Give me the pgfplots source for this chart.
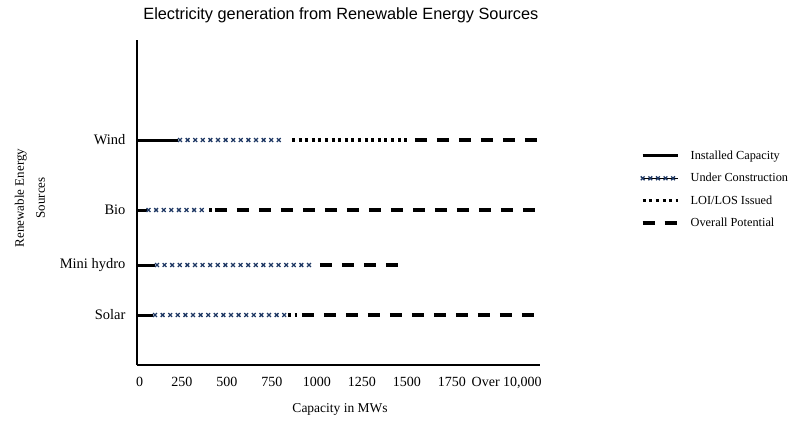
\documentclass[border=0pt]{standalone}
\usepackage{pgfplots}
\pgfplotsset{compat=1.18}
\usepackage{fontspec}
\setmainfont{Liberation Serif}
\newfontfamily\arialf{Liberation Sans}
\usetikzlibrary{decorations.markings}
\definecolor{ucblue}{HTML}{1F3864}
\newcommand{\lf}{\fontsize{12.3}{14}\selectfont}
\tikzset{
  inst/.style={black, line width=3pt},
  uc/.style={draw=none, postaction={decorate}, decoration={markings,
     mark=between positions 0 and 1 step 7.6pt with {\draw[ucblue, line width=1.3pt] (-1.9pt,-1.9pt)--(1.9pt,1.9pt) (-1.9pt,1.9pt)--(1.9pt,-1.9pt);}}},
  loi/.style={black, line width=3.2pt, dash pattern=on 3pt off 3.6pt},
  op/.style={black, line width=4pt, dash pattern=on 12pt off 10pt},
}
\begin{document}
\begin{tikzpicture}
\begin{axis}[
  at={(137pt,-365pt)}, anchor=south west,
  scale only axis, width=403pt, height=325pt,
  xmin=0, xmax=2240, ymin=0, ymax=325,
  axis x line*=bottom, axis y line*=left,
  axis line style={-, line width=2.6pt},
  major tick length=0pt,
  xtick={15,250,500,750,1000,1250,1500,1750,2055},
  xticklabels={0,250,500,750,1000,1250,1500,1750,{Over 10,000}},
  xticklabel style={font=\fontsize{14}{16}\selectfont, yshift=-9pt},
  ytick={50,100,155,225},
  yticklabels={Solar,Mini hydro,Bio,Wind},
  yticklabel style={font=\fontsize{14.5}{17}\selectfont, xshift=-8pt},
  /pgf/number format/assume math mode=true,
  title={\arialf Electricity generation from Renewable Energy Sources},
  title style={at={(axis description cs:0.506,1.058)}, anchor=center, font=\fontsize{16.3}{19}\selectfont},
  xlabel={Capacity in MWs},
  xlabel style={at={(axis description cs:0.504,-0.138)}, anchor=center, font=\fontsize{13.5}{15}\selectfont},
  ylabel={Renewable Energy\\Sources},
  ylabel style={at={(axis description cs:-0.2655,0.514)}, anchor=center, rotate=0, align=center, font=\fontsize{13}{21}\selectfont},
  legend image code/.code={\draw[#1] (0pt,0pt) -- (35pt,0pt);},
  legend style={draw=none, fill=none, at={(1.248,0.666)}, anchor=north west, inner sep=0pt,
     row sep=8.5pt, nodes={font=\lf},
     /tikz/every odd column/.append style={column sep=9pt}},
  legend cell align=left,
  clip=false,
]
\addlegendimage{inst}\addlegendentry{\lf Installed Capacity}
\addlegendimage{uc}\addlegendentry{\lf Under Construction}
\addlegendimage{loi}\addlegendentry{\lf LOI/LOS Issued}
\addlegendimage{op}\addlegendentry{\lf Overall Potential}
% Wind
\addplot[inst, forget plot] coordinates {(0,225) (228,225)};
\addplot[uc, forget plot] coordinates {(239,225) (822,225)};
\addplot[loi, forget plot] coordinates {(861,225) (1500,225)};
\addplot[op, forget plot] coordinates {(1544,225) (2228,225)};
% Bio
\addplot[inst, forget plot] coordinates {(0,155) (56,155)};
\addplot[uc, forget plot] coordinates {(64,155) (394,155)};
\addplot[loi, forget plot] coordinates {(402,155) (417,155)};
\addplot[op, forget plot] coordinates {(433,155) (2211,155)};
% Mini hydro
\addplot[inst, forget plot] coordinates {(0,100) (100,100)};
\addplot[uc, forget plot] coordinates {(111,100) (989,100)};
\addplot[op, forget plot] coordinates {(1017,100) (1450,100)};
% Solar
\addplot[inst, forget plot] coordinates {(0,50) (89,50)};
\addplot[uc, forget plot] coordinates {(100,50) (822,50)};
\addplot[loi, forget plot] coordinates {(839,50) (889,50)};
\addplot[op, forget plot] coordinates {(917,50) (2222,50)};
\end{axis}
\pgfresetboundingbox
\useasboundingbox (0pt,0pt) rectangle (789pt,-425pt);
\end{tikzpicture}
\end{document}
